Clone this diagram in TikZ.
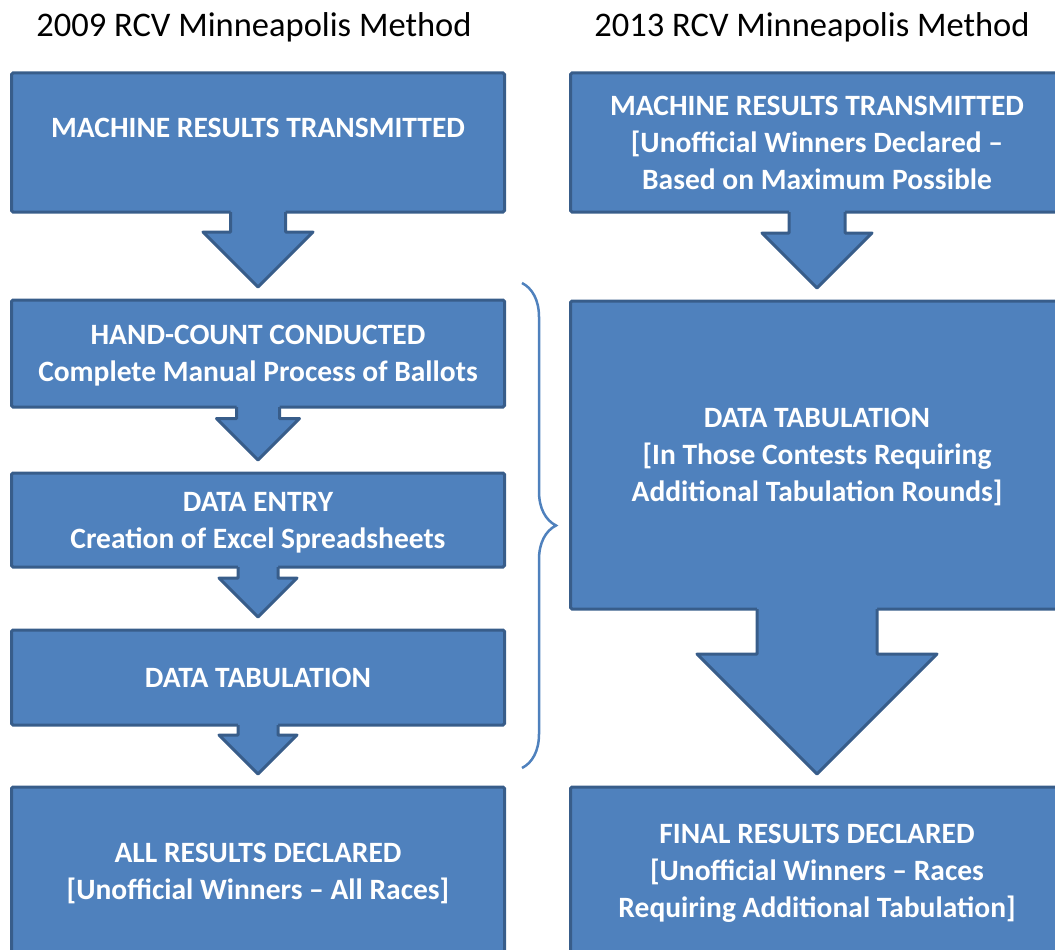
\documentclass[tikz,border=0pt]{standalone}
\usepackage{fontspec}
\setmainfont{Carlito}
\usetikzlibrary{positioning,calc,decorations.pathreplacing}
\definecolor{boxblue}{HTML}{4F81BD}
\definecolor{edgeblue}{HTML}{385D8A}
\newcommand{\blockarrow}[4]{%
  \fill[boxblue] ($(#1.south)+(-#3,4)$) -- ($(#1.south |- #2.north)+(-#3,13+#4)$)
    -- ($(#1.south |- #2.north)+(-#4,13+#4)$) -- ($(#1.south |- #2.north)+(0,13)$)
    -- ($(#1.south |- #2.north)+(#4,13+#4)$) -- ($(#1.south |- #2.north)+(#3,13+#4)$)
    -- ($(#1.south)+(#3,4)$) -- cycle;
  \draw[arrowedge] ($(#1.south)+(-#3,0)$) -- ($(#1.south |- #2.north)+(-#3,13+#4)$)
    -- ($(#1.south |- #2.north)+(-#4,13+#4)$) -- ($(#1.south |- #2.north)+(0,13)$)
    -- ($(#1.south |- #2.north)+(#4,13+#4)$) -- ($(#1.south |- #2.north)+(#3,13+#4)$)
    -- ($(#1.south)+(#3,0)$);
}
\begin{document}
\begin{tikzpicture}[x=1pt, y=1pt, node distance=88pt]
    \tikzstyle{stage} = [rectangle, draw=edgeblue, fill=boxblue, line width=3pt, rounded corners=1.5pt, outer sep=0pt, inner sep=0pt, minimum width=493pt, text=white, text depth=0pt, align=center, font=\bfseries\fontsize{29.5}{37}\selectfont]
    \tikzstyle{arrowedge} = [edgeblue, line width=3pt, line join=round]
    \tikzstyle{heading} = [anchor=base, font=\fontsize{34.5}{40}\selectfont]

    \useasboundingbox (0,0) rectangle (1055,-950);
    \clip (0,0) rectangle (1055,-950);

    \node [heading] (t09) at (254,-37) {2009 RCV Minneapolis Method};
    \node [heading] (t13) at (812,-37) {2013 RCV Minneapolis Method};

    \node [stage, minimum height=139pt, text depth=29pt] (mrt09) at (258,-142.5) {MACHINE RESULTS TRANSMITTED};
    \node [stage, minimum height=107pt, below=of mrt09] (hand) {HAND-COUNT CONDUCTED\\Complete Manual Process of Ballots};
    \node [stage, minimum height=94pt, below=66pt of hand] (entry) {DATA ENTRY\\Creation of Excel Spreadsheets};
    \node [stage, minimum height=95pt, below=63pt of entry] (tab09) {DATA TABULATION};
    \node [stage, minimum height=168pt, below=62pt of tab09] (res09) {ALL RESULTS DECLARED\\{}[Unofficial Winners -- All Races]};

    \node [stage, minimum height=139pt, right=66pt of mrt09] (mrt13) {MACHINE RESULTS TRANSMITTED\\{}[Unofficial Winners Declared --\\Based on Maximum Possible};
    \node [stage, minimum height=308pt, below=89pt of mrt13] (tab13) {DATA TABULATION\\{}[In Those Contests Requiring\\Additional Tabulation Rounds]};
    \node [stage, minimum height=168pt, right=66pt of res09] (res13) {FINAL RESULTS DECLARED\\{}[Unofficial Winners -- Races\\Requiring Additional Tabulation]};

    \blockarrow{mrt09}{hand}{27.5}{55}
    \blockarrow{hand}{entry}{21.5}{41.5}
    \blockarrow{entry}{tab09}{20}{39}
    \blockarrow{tab09}{res09}{20}{39}
    \blockarrow{mrt13}{tab13}{28}{55}
    \blockarrow{tab13}{res13}{60}{120}

    \coordinate (btop) at (522,-283);
    \coordinate (bbot) at (522,-768);
    \draw [boxblue, line width=2.5pt, decorate, decoration={brace, amplitude=34pt}] (btop) -- (bbot);
\end{tikzpicture}
\end{document}
